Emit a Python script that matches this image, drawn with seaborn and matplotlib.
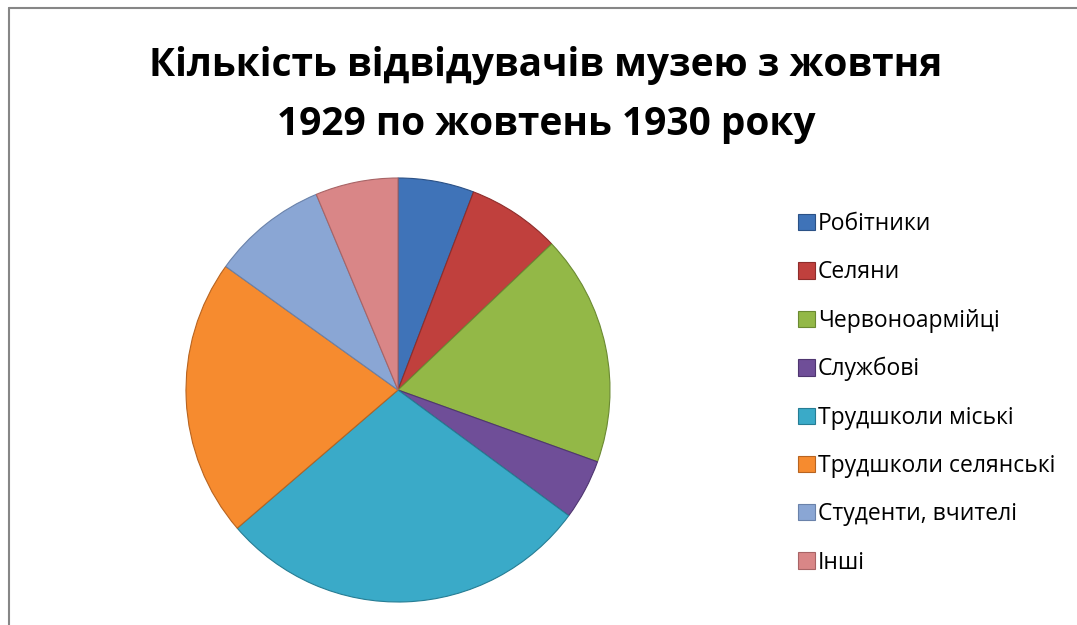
import matplotlib
matplotlib.use("Agg")
import matplotlib.pyplot as plt
import seaborn as sns
from matplotlib.patches import Rectangle
from matplotlib.lines import Line2D

categories = ["Робітники", "Селяни", "Червоноармійці", "Службові",
              "Трудшколи міські", "Трудшколи селянські", "Студенти, вчителі", "Інші"]
values = [5.8, 7.1, 17.6, 4.6, 28.6, 21.2, 8.8, 6.3]
colors = ["#3F73B8", "#C0403D", "#93B847", "#6F4E98", "#3AAAC8", "#F68B2F", "#8AA6D4", "#D98687"]
edge_colors = ["#2B5186", "#8E2D2B", "#6B8A32", "#4F3670", "#267D94", "#B86420", "#6A82AA", "#A86466"]
title = "Кількість відвідувачів музею з жовтня\n1929 по жовтень 1930 року"

sns.set_theme(style="white")
plt.rcParams['font.family'] = ['Open Sans', 'DejaVu Sans']
plt.rcParams['text.color'] = 'black'

fig = plt.figure(figsize=(10.77, 6.25), dpi=100)
fig.patch.set_facecolor("white")

# chart frame (top and left edges visible)
fig.add_artist(Line2D([9/1077, 9/1077], [0, 1 - 8/625], transform=fig.transFigure, color="#868686", lw=1.5))
fig.add_artist(Line2D([9/1077, 1], [1 - 8/625, 1 - 8/625], transform=fig.transFigure, color="#868686", lw=1.5))

ax = fig.add_axes([0.1727, 0.0368, 0.3937, 0.6784])
wedges, _ = ax.pie(values, colors=colors, startangle=90, counterclock=False,
                   radius=1.0, wedgeprops=dict(linewidth=0.8))
for w, ec in zip(wedges, edge_colors):
    w.set_edgecolor(ec)
ax.set_xlim(-1, 1)
ax.set_ylim(-1, 1)
ax.set_aspect("equal")
ax.axis("off")

fig.text(546/1077, 1 - 95/625, title, ha="center", va="center",
         fontsize=28, fontweight="bold", color="black", linespacing=1.64)

handles = [Rectangle((0, 0), 1, 1, facecolor=c, edgecolor=e, lw=0.8) for c, e in zip(colors, edge_colors)]
leg = fig.legend(handles, categories, loc="upper left", bbox_to_anchor=(789/1077, 1 - 203/625),
                 frameon=False, fontsize=16.5, handlelength=0.72, handleheight=0.72,
                 handletextpad=0.15, labelspacing=1.06, borderaxespad=0)
for t in leg.get_texts():
    t.set_color("black")

fig.savefig("out.png", dpi=100, facecolor="white")
